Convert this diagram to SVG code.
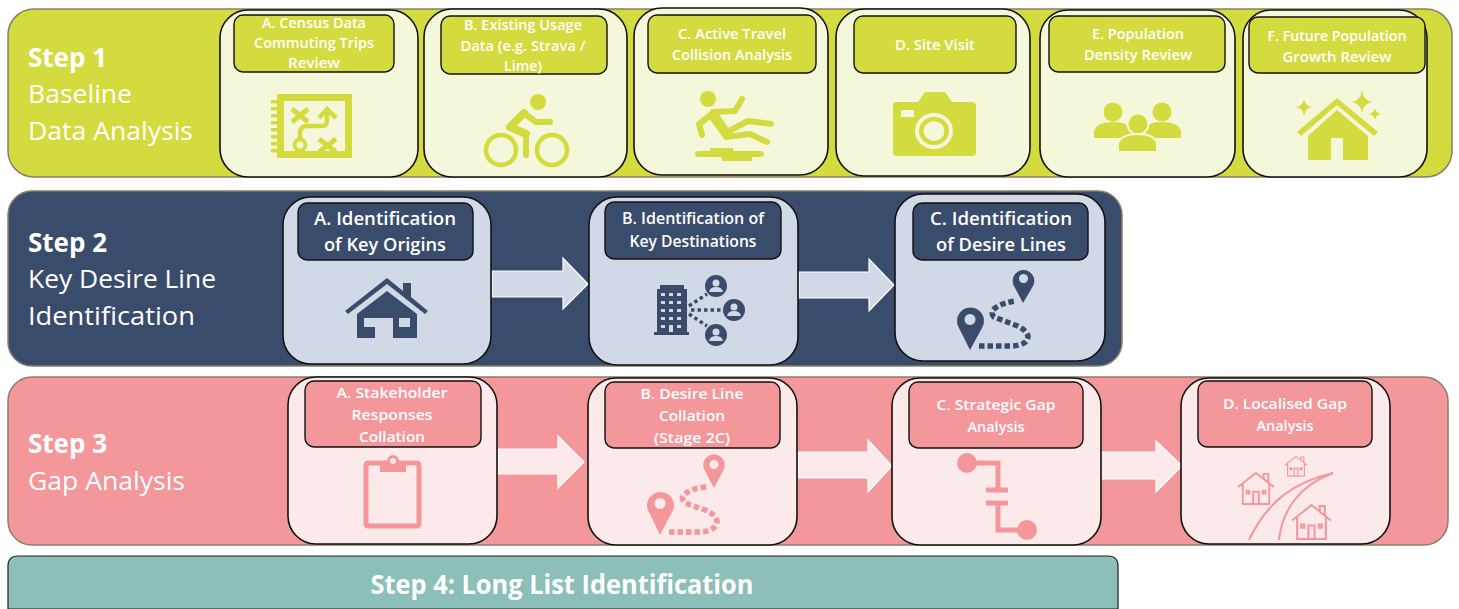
<svg xmlns="http://www.w3.org/2000/svg" xmlns:xlink="http://www.w3.org/1999/xlink" width="1459" height="609" viewBox="0 0 1459 609">
<style>
text{font-family:"Open Sans","Noto Sans","Liberation Sans",sans-serif;fill:#fff}
.band{stroke:#8a7d68;stroke-width:1.5}
.card{stroke:#111;stroke-width:1.6}
.lab{stroke:#111;stroke-width:1.4}
.s1{fill:#d4db3e}.c1{fill:#f5f7da}
.s2{fill:#3a4c6b}.c2{fill:#d1d9e6}
.s3{fill:#f4979b}.c3{fill:#fce9e9}
.h{font-size:26px;font-weight:700}
.t{font-size:26px}
.l{font-size:15px;font-weight:600;text-anchor:middle}
.m{font-size:18px;font-weight:600;text-anchor:middle}
.arrow{stroke:#fff;stroke-width:1.2}
.i1{fill:#d4db3e;stroke:none}.il1{fill:none;stroke:#d4db3e;stroke-linecap:round;stroke-linejoin:round}
.i2{fill:#3a4c6b;stroke:none}.il2{fill:none;stroke:#3a4c6b}
.i3{fill:#f4979b;stroke:none}.il3{fill:none;stroke:#f4979b}
</style>
<defs>
<symbol id="lhouse" viewBox="0 0 40 36">
<path d="M1 17L20 2L39 17M6 14V35H34V14M28 8V3H33V12M17 35V22H23V35M10 21H13V24H10ZM27 21H30V24H27Z" fill="none" stroke="#f4979b" stroke-width="2"/>
</symbol>
</defs>

<g id="step1">
<rect class="band s1" x="8" y="9" width="1444" height="168" rx="26"/>
<text class="h" x="28" y="67">Step 1</text>
<text class="t" x="28" y="103" textLength="104" lengthAdjust="spacingAndGlyphs">Baseline</text>
<text class="t" x="28" y="140" textLength="165" lengthAdjust="spacingAndGlyphs">Data Analysis</text>
</g>
<g id="step2">
<rect class="band s2" x="8" y="191" width="1114" height="175" rx="24"/>
<text class="h" x="28" y="252">Step 2</text>
<text class="t" x="28" y="288" textLength="188" lengthAdjust="spacingAndGlyphs">Key Desire Line</text>
<text class="t" x="28" y="325" textLength="167" lengthAdjust="spacingAndGlyphs">Identification</text>
</g>
<g id="step3">
<rect class="band s3" x="8" y="377" width="1440" height="168" rx="24"/>
<text class="h" x="28" y="453">Step 3</text>
<text class="t" x="28" y="490" textLength="157" lengthAdjust="spacingAndGlyphs">Gap Analysis</text>
</g>
<g id="step4">
<path d="M8 609V566Q8 556 18 556H1108Q1118 556 1118 566V609Z" fill="#8bbfb7" stroke="#222" stroke-width="1.2"/>
<text x="562" y="594" font-size="26" font-weight="700" text-anchor="middle" textLength="383" lengthAdjust="spacingAndGlyphs">Step 4: Long List Identification</text>
</g>

<g id="connectors">
<polygon class="arrow c2" points="492,271 563,271 563,258 588,284 563,309 563,297 492,297"/>
<polygon class="arrow c2" points="799,272 869,272 869,259 894,285 869,311 869,298 799,298"/>
<polygon class="arrow c3" points="498,449 558,449 558,436 584,462 558,488 558,474 498,474"/>
<polygon class="arrow c3" points="798,452 868,452 868,440 892,466 868,492 868,478 798,478"/>
<polygon class="arrow c3" points="1101,452 1156,452 1156,441 1182,466 1156,492 1156,479 1101,479"/>
</g>

<g id="s1a">
<rect class="card c1" x="220" y="10" width="198" height="167" rx="28"/>
<rect class="lab s1" x="234" y="15" width="160" height="57" rx="9"/>
<text class="l" x="314" y="28" textLength="104" lengthAdjust="spacingAndGlyphs">A. Census Data</text>
<text class="l" x="314" y="48" textLength="120" lengthAdjust="spacingAndGlyphs">Commuting Trips</text>
<text class="l" x="314" y="68" textLength="52" lengthAdjust="spacingAndGlyphs">Review</text>
<path class="i1" d="M277 94H352V158H277ZM284 101V151H345V101Z" fill-rule="evenodd"/>
<g class="il1">
<path stroke-dasharray="3.500 3.500" stroke-width="6" stroke-linecap="butt" d="M274 100V156"/>
<path stroke-width="5" stroke-linecap="butt" d="M292 109L308 122M308 109L292 122M319 139L336 152M336 139L319 152"/>
<path stroke-width="4.500" stroke-linecap="butt" stroke-linejoin="miter" d="M300 138V132Q301 126 307 126H322Q327 126 327 121V110M319 118L327 109L336 118"/>
<circle cx="300" cy="145" r="5.500" stroke-width="4"/>
</g>
</g>

<g id="s1b">
<rect class="card c1" x="424" y="9" width="203" height="168" rx="28"/>
<rect class="lab s1" x="441" y="16" width="166" height="58" rx="9"/>
<text class="l" x="523" y="30" textLength="118" lengthAdjust="spacingAndGlyphs">B. Existing Usage</text>
<text class="l" x="523" y="51" textLength="125" lengthAdjust="spacingAndGlyphs">Data (e.g. Strava /</text>
<text class="l" x="523" y="71" textLength="38" lengthAdjust="spacingAndGlyphs">Lime)</text>
<circle class="i1" cx="538" cy="102" r="8"/>
<g class="il1">
<circle cx="501" cy="150" r="15" stroke-width="4.500"/>
<circle cx="552" cy="150" r="15" stroke-width="4.500"/>
<path stroke-width="8" d="M524 113L510 127L526 134"/>
<path stroke-width="6" d="M526 134V155"/>
<path stroke-width="6" d="M524 113L536 122H550"/>
</g>
</g>

<g id="s1c">
<rect class="card c1" x="634" y="8" width="194" height="167" rx="28"/>
<rect class="lab s1" x="648" y="15" width="168" height="58" rx="9"/>
<text class="l" x="732" y="39" textLength="108" lengthAdjust="spacingAndGlyphs">C. Active Travel</text>
<text class="l" x="732" y="60" textLength="120" lengthAdjust="spacingAndGlyphs">Collision Analysis</text>
<circle class="i1" cx="708" cy="99" r="8"/>
<g class="il1" stroke-width="6">
<path d="M702 135L699 124L712 114"/>
<path d="M713 112L735 111L742 99"/>
<path stroke-width="10" d="M713 115L726 133"/>
<path d="M727 132L748 121L771 124"/>
<path d="M726 137L750 134L767 142"/>
</g>
<path class="i1" d="M695 154Q695 151 699 151H710V148H733V151H760Q764 151 764 154Q764 157 760 157H752V161H722V157H699Q695 157 695 154Z"/>
</g>

<g id="s1d">
<rect class="card c1" x="836" y="9" width="194" height="167" rx="28"/>
<rect class="lab s1" x="854" y="16" width="162" height="57" rx="9"/>
<text class="l" x="935" y="50" textLength="80" lengthAdjust="spacingAndGlyphs">D. Site Visit</text>
<path class="i1" d="M896 102H918L925 92H945L952 102H972Q976 102 976 106V152Q976 156 972 156H897Q893 156 893 152V106Q893 102 896 102Z"/>
<rect class="c1" x="901" y="110" width="13" height="7"/>
<ellipse class="c1" cx="934" cy="131" rx="19" ry="18"/>
<ellipse class="i1" cx="934" cy="131" rx="15" ry="14"/>
<ellipse class="c1" cx="934" cy="131" rx="10.500" ry="10"/>
</g>

<g id="s1e">
<rect class="card c1" x="1040" y="10" width="195" height="167" rx="28"/>
<rect class="lab s1" x="1049" y="16" width="176" height="56" rx="9"/>
<text class="l" x="1138" y="39" textLength="92" lengthAdjust="spacingAndGlyphs">E. Population</text>
<text class="l" x="1138" y="60" textLength="108" lengthAdjust="spacingAndGlyphs">Density Review</text>
<circle class="i1" cx="1113" cy="112" r="9.500"/>
<circle class="i1" cx="1162" cy="112" r="9.500"/>
<path class="i1" d="M1094 138V131Q1097 122 1113 122Q1129 122 1132 131V138Z"/>
<path class="i1" d="M1144 138V131Q1147 122 1162 122Q1178 122 1181 131V138Z"/>
<circle class="i1" cx="1138" cy="124" r="10.500" style="stroke:#f5f7da;stroke-width:2"/>
<path class="i1" d="M1118 152V143Q1122 134 1138 134Q1154 134 1157 143V152Z" style="stroke:#f5f7da;stroke-width:2"/>
</g>

<g id="s1f">
<rect class="card c1" x="1243" y="10" width="184" height="167" rx="28"/>
<rect class="lab s1" x="1249" y="17" width="176" height="56" rx="9"/>
<text class="l" x="1337" y="41" textLength="139" lengthAdjust="spacingAndGlyphs">F. Future Population</text>
<text class="l" x="1337" y="62" textLength="109" lengthAdjust="spacingAndGlyphs">Growth Review</text>
<path class="i1" d="M1297 132L1337 98L1378 132L1374 136L1337 105L1301 136Z"/>
<path class="i1" d="M1337 110L1368 136V160H1343V138H1331V160H1308V136Z"/>
<path class="i1" d="M1304 99Q1305 106 1312 107Q1305 108 1304 116Q1303 108 1296 107Q1303 106 1304 99ZM1362 90Q1363 100 1372 102Q1363 104 1362 113Q1361 104 1352 102Q1361 100 1362 90ZM1375 108Q1376 113 1381 114Q1376 115 1375 120Q1374 115 1369 114Q1374 113 1375 108Z"/>
</g>

<g id="s2a">
<rect class="card c2" x="283" y="197" width="208" height="167" rx="28"/>
<rect class="lab s2" x="298" y="203" width="175" height="57" rx="9"/>
<text class="m" x="385" y="225" textLength="142" lengthAdjust="spacingAndGlyphs">A. Identification</text>
<text class="m" x="385" y="251" textLength="122" lengthAdjust="spacingAndGlyphs">of Key Origins</text>
<path class="i2" d="M345 311L387 278L403 291V283H411V297L428 311L425 314L387 284L348 314Z"/>
<path class="i2" d="M387 291L417 314V338H393V318H375V338H357V314Z"/>
<rect class="c2" x="364" y="318" width="11" height="9" style="display:inline"/>
<rect class="c2" x="399" y="318" width="11" height="9"/>
</g>

<g id="s2b">
<rect class="card c2" x="589" y="197" width="209" height="168" rx="28"/>
<rect class="lab s2" x="605" y="202" width="176" height="57" rx="9"/>
<text class="l" x="693" y="224" textLength="142" lengthAdjust="spacingAndGlyphs" style="font-size:16px">B. Identification of</text>
<text class="l" x="693" y="247" textLength="127" lengthAdjust="spacingAndGlyphs" style="font-size:16px">Key Destinations</text>
<path class="i2" d="M660 285H684V289H687V332H689V335H654V332H657V289H660Z"/>
<g fill="#d1d9e6">
<rect x="661" y="293" width="4" height="3"/><rect x="669" y="293" width="4" height="3"/><rect x="677" y="293" width="4" height="3"/>
<rect x="661" y="301" width="4" height="3"/><rect x="669" y="301" width="4" height="3"/><rect x="677" y="301" width="4" height="3"/>
<rect x="661" y="309" width="4" height="3"/><rect x="669" y="309" width="4" height="3"/><rect x="677" y="309" width="4" height="3"/>
<rect x="661" y="317" width="4" height="3"/><rect x="669" y="317" width="4" height="3"/><rect x="677" y="317" width="4" height="3"/>
<rect x="661" y="325" width="4" height="3"/><rect x="669" y="325" width="4" height="7"/><rect x="677" y="325" width="4" height="3"/>
</g>
<path class="il2" stroke-width="3.500" stroke-dasharray="3.500 3" d="M689 306L707 294M691 310H721M689 314L707 326"/>
<g id="b-people">
<circle class="i2" cx="716" cy="286" r="11"/><circle class="i2" cx="734" cy="310" r="11"/><circle class="i2" cx="716" cy="335" r="11"/>
<g fill="#d1d9e6">
<circle cx="716" cy="283" r="3.500"/><path d="M709 292Q710 287 716 287Q722 287 723 292Z"/>
<circle cx="734" cy="307" r="3.500"/><path d="M727 316Q728 311 734 311Q740 311 741 316Z"/>
<circle cx="716" cy="332" r="3.500"/><path d="M709 341Q710 336 716 336Q722 336 723 341Z"/>
</g>
</g>
</g>

<g id="s2c">
<rect class="card c2" x="895" y="194" width="210" height="167" rx="28"/>
<rect class="lab s2" x="913" y="203" width="175" height="57" rx="9"/>
<text class="m" x="1001" y="225" textLength="142" lengthAdjust="spacingAndGlyphs">C. Identification</text>
<text class="m" x="1001" y="251" textLength="130" lengthAdjust="spacingAndGlyphs">of Desire Lines</text>
<path class="i2" d="M1023 303L1014 286A10.800 10.800 0 1 1 1033 286ZM1023.500 274a4.500 4.500 0 1 0 .01 0Z" fill-rule="evenodd"/>
<path class="i2" d="M970 350L959 328A13.500 13.500 0 1 1 982 328ZM970 314a5.500 5.500 0 1 0 .01 0Z" fill-rule="evenodd"/>
<path class="il2" stroke-width="5.500" stroke-dasharray="5.500 3" d="M979 346H1012Q1028 345 1028 336Q1026 329 1015 325L994 317Q990 312 994 309Q1003 302 1017 301"/>
</g>

<g id="s3a">
<rect class="card c3" x="288" y="377" width="209" height="167" rx="28"/>
<rect class="lab s3" x="305" y="381" width="176" height="66" rx="9"/>
<text class="l" x="392" y="398" textLength="111" lengthAdjust="spacingAndGlyphs">A. Stakeholder</text>
<text class="l" x="392" y="420" textLength="81" lengthAdjust="spacingAndGlyphs">Responses</text>
<text class="l" x="392" y="442" textLength="66" lengthAdjust="spacingAndGlyphs">Collation</text>
<rect x="366" y="463" width="53" height="63" rx="2" fill="none" stroke="#f4979b" stroke-width="5"/>
<path class="i3" d="M380 461H387Q388 455 393 455Q398 455 399 461H406V472H380Z"/>
<circle class="c3" cx="393" cy="461" r="3"/>
</g>

<g id="s3b">
<rect class="card c3" x="588" y="378" width="209" height="167" rx="28"/>
<rect class="lab s3" x="605" y="382" width="175" height="66" rx="9"/>
<text class="l" x="692" y="399" textLength="103" lengthAdjust="spacingAndGlyphs">B. Desire Line</text>
<text class="l" x="692" y="421" textLength="66" lengthAdjust="spacingAndGlyphs">Collation</text>
<text class="l" x="692" y="443" textLength="76" lengthAdjust="spacingAndGlyphs">(Stage 2C)</text>
<path class="i3" d="M714 488L705 471A10.800 10.800 0 1 1 723 471ZM714 460a4.500 4.500 0 1 0 .01 0Z" fill-rule="evenodd"/>
<path class="i3" d="M660 535L650 514A13.500 13.500 0 1 1 671 514ZM660 498a5.500 5.500 0 1 0 .01 0Z" fill-rule="evenodd"/>
<path class="il3" stroke-width="5.500" stroke-dasharray="5.500 3" d="M669 532H702Q717 530 717 521Q715 514 705 510L685 503Q680 498 685 494Q692 488 707 487"/>
</g>

<g id="s3c">
<rect class="card c3" x="892" y="378" width="209" height="167" rx="28"/>
<rect class="lab s3" x="909" y="382" width="174" height="66" rx="9"/>
<text class="l" x="996" y="410" textLength="119" lengthAdjust="spacingAndGlyphs">C. Strategic Gap</text>
<text class="l" x="996" y="432" textLength="57" lengthAdjust="spacingAndGlyphs">Analysis</text>
<circle class="i3" cx="967" cy="463" r="10"/>
<circle class="i3" cx="1027" cy="530" r="10"/>
<path class="il3" stroke-width="5" d="M967 463H998V490M998 503V530H1027"/>
<path class="il3" stroke-width="5" d="M986 490H1008M986 503H1008"/>
</g>

<g id="s3d">
<rect class="card c3" x="1181" y="378" width="209" height="166" rx="28"/>
<rect class="lab s3" x="1198" y="381" width="174" height="66" rx="9"/>
<text class="l" x="1285" y="409" textLength="124" lengthAdjust="spacingAndGlyphs">D. Localised Gap</text>
<text class="l" x="1285" y="431" textLength="57" lengthAdjust="spacingAndGlyphs">Analysis</text>
<path class="il3" stroke-width="2" d="M1249 540C1268 500 1295 482 1333 473C1300 485 1282 510 1279 540"/>
<use xlink:href="#lhouse" href="#lhouse" x="1237" y="471" width="38" height="34"/>
<use xlink:href="#lhouse" href="#lhouse" x="1284" y="455" width="24" height="22"/>
<use xlink:href="#lhouse" href="#lhouse" x="1291" y="503" width="41" height="37"/>
</g>
</svg>
